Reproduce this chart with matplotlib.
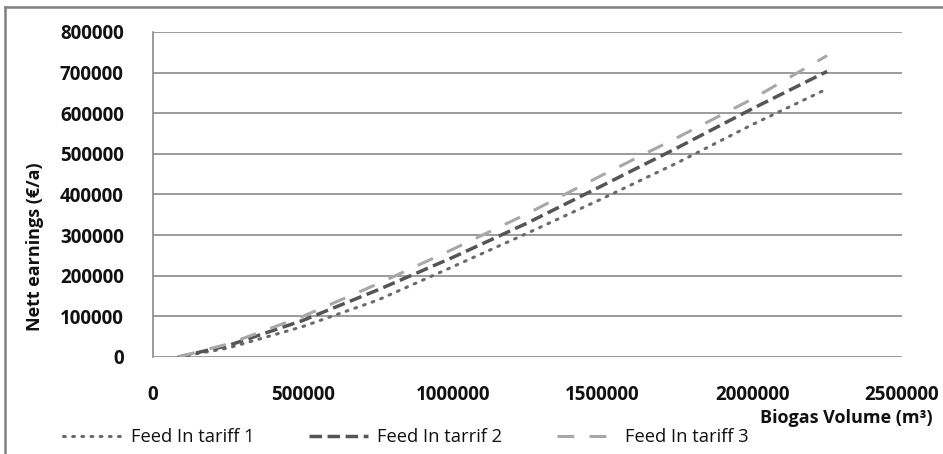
import matplotlib
matplotlib.use("Agg")
import matplotlib.pyplot as plt
from matplotlib.lines import Line2D

# ---- data ----
volume = [85000, 250000, 500000, 750000, 1000000, 1250000, 1500000, 1750000, 2000000, 2250000]
tariff1 = [0, 22000, 75000, 140000, 222000, 305000, 390000, 478000, 572000, 660000]
tariff2 = [0, 28000, 90000, 165000, 245000, 330000, 422000, 515000, 611000, 703000]
tariff3 = [0, 32000, 100000, 180000, 265000, 353000, 448000, 540000, 635000, 742000]
series_names = ["Feed In tariff 1", "Feed In tarrif 2", "Feed In tariff 3"]
y_ticks = [0, 100000, 200000, 300000, 400000, 500000, 600000, 700000, 800000]
x_ticks = [0, 500000, 1000000, 1500000, 2000000, 2500000]

plt.rcParams['font.family'] = ['Open Sans', 'DejaVu Sans']

W, H = 943, 454
fig = plt.figure(figsize=(W / 100, H / 100), dpi=100)
ax = fig.add_axes([153 / W, (H - 357) / H, (902 - 153) / W, (357 - 32) / H])

lw = 2.2
ax.plot(volume, tariff1, color="#6a6a6a", lw=lw, linestyle=(0, (0.6, 2.4)),
        dash_capstyle="round", label=series_names[0])
ax.plot(volume, tariff2, color="#555555", lw=lw + 0.3, linestyle=(0, (3.6, 1.6)),
        label=series_names[1])
ax.plot(volume, tariff3, color="#a8a8a8", lw=lw, linestyle=(0, (5.5, 5.0)),
        label=series_names[2])

ax.set_xlim(0, 2500000)
ax.set_ylim(0, 800000)
ax.set_xticks(x_ticks)
ax.set_yticks(y_ticks)
ax.set_xticklabels([str(v) for v in x_ticks])
ax.set_yticklabels([str(v) for v in y_ticks])
ax.yaxis.grid(True, color="#8a8a8a", lw=1.2)
ax.set_axisbelow(True)
for s in ["top", "right", "bottom"]:
    ax.spines[s].set_visible(False)
ax.spines["left"].set_color("#8a8a8a")
ax.spines["left"].set_linewidth(1.2)
ax.tick_params(axis="both", length=0, labelsize=13.5, colors="#111111")
ax.tick_params(axis="x", pad=20)
ax.tick_params(axis="y", pad=21)
for t in ax.get_xticklabels() + ax.get_yticklabels():
    t.set_fontweight("bold")

# axis titles
fig.text(933 / W, (H - 418) / H, "Biogas Volume (m³)", ha="right", va="center",
         fontsize=13, fontweight="bold", color="#111111")
fig.text(35 / W, (H - 247) / H, "Nett earnings (€/a)", ha="center", va="center",
         rotation=90, fontsize=13, fontweight="bold", color="#111111")

# legend
leg = fig.legend(loc="center left", bbox_to_anchor=(63 / W, (H - 437) / H),
                 ncol=3, frameon=False, fontsize=13.2, handlelength=3.2,
                 handletextpad=0.5, columnspacing=3.0, borderpad=0,
                 borderaxespad=0)
for t in leg.get_texts():
    t.set_color("#111111")

# outer frame (top and left edges visible)
fig.add_artist(Line2D([5 / W, 1.0], [(H - 7) / H, (H - 7) / H], transform=fig.transFigure,
                      color="#808080", lw=1.8))
fig.add_artist(Line2D([5 / W, 5 / W], [0, (H - 7) / H], transform=fig.transFigure,
                      color="#808080", lw=1.8))

fig.savefig("out.png", dpi=100)
